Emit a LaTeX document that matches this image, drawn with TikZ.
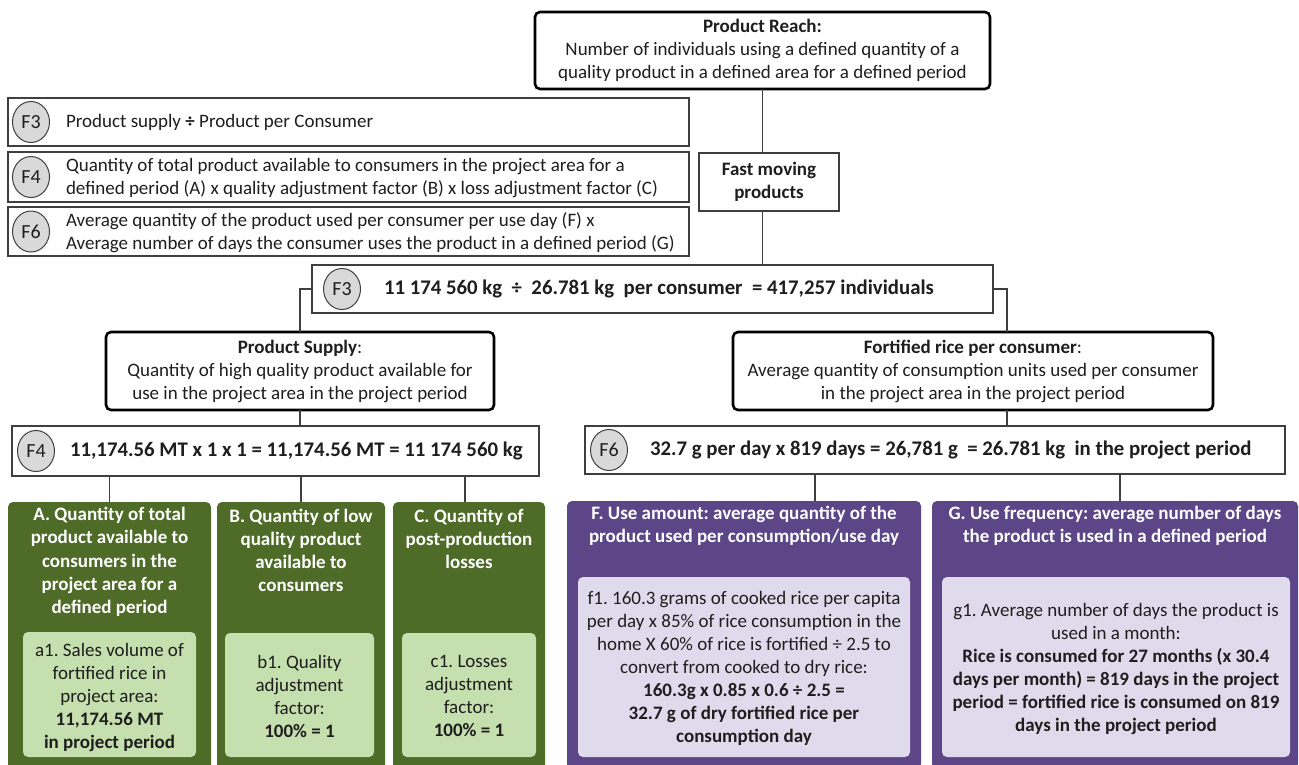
\documentclass[tikz,border=0pt]{standalone}
\usepackage{fontspec}
\setmainfont{Carlito}
\usetikzlibrary{shapes.geometric,calc}
\definecolor{dgreen}{HTML}{4E6B28}
\definecolor{lgreen}{HTML}{C5DFAE}
\definecolor{dpurple}{HTML}{5C4687}
\definecolor{lpurple}{HTML}{DFDBEC}
\definecolor{cgray}{HTML}{D9D9D9}
\definecolor{bgray}{HTML}{3F3F3F}
\definecolor{txt}{HTML}{1E1E1E}
\frenchspacing
\begin{document}
\begin{tikzpicture}[x=1pt,y=-1pt,
  every node/.style={inner sep=0pt, outer sep=0pt, text=txt},
  bodyfont/.style={font=\fontsize{19}{23}\selectfont},
  bigbox/.style={draw=black, line width=2.6pt, rounded corners=5pt, fill=white, align=center, bodyfont},
  rowbox/.style={draw=bgray, line width=1.2pt, fill=white},
  calcbox/.style={draw=bgray, line width=1.2pt, fill=white},
  fastbox/.style={draw=bgray, line width=1.2pt, fill=white, align=center, font=\fontsize{19}{23}\selectfont\bfseries},
  fcirc/.style={ellipse, draw=bgray, fill=cgray, line width=1pt, minimum width=37pt, minimum height=41pt, font=\fontsize{20}{24}\selectfont},
  rowtext/.style={anchor=west, align=left, bodyfont},
  calctext/.style={anchor=west, font=\fontsize{20.8}{25}\selectfont\bfseries},
  gbox/.style={fill=dgreen, rounded corners=5pt},
  pbox/.style={fill=dpurple, rounded corners=5pt},
  gin/.style={fill=lgreen, rounded corners=5pt},
  pin/.style={fill=lpurple, rounded corners=5pt},
  ttl/.style={align=center, text=white, font=\fontsize{19}{23.2}\selectfont\bfseries},
  intext/.style={align=center, bodyfont},
  conn/.style={draw=bgray, line width=1.2pt}
]
\useasboundingbox (0,0) rectangle (1299,764);
\fill[white] (0,0) rectangle (1299,764);

% top box
\node[bigbox, minimum width=455pt, minimum height=77pt] (reach) at (762.5,50.5)
  {\textbf{Product Reach:}\\Number of individuals using a defined quantity of a\\quality product in a defined area for a defined period};

% formula rows
\node[rowbox, minimum width=681pt, minimum height=48pt] (r3) at (348.5,122) {};
\node[fcirc] (r3c) at (31,122) {F3};
\node[rowtext] (r3t) at (66,122) {Product supply \textbf{÷} Product per Consumer};

\node[rowbox, minimum width=681pt, minimum height=50pt] (r4) at (348.5,177) {};
\node[fcirc] (r4c) at (31,177) {F4};
\node[rowtext] (r4t) at (66,178) {Quantity of total product available to consumers in the project area for a\\defined period (A) x quality adjustment factor (B) x loss adjustment factor (C)};

\node[rowbox, minimum width=681pt, minimum height=49pt] (r6) at (348.5,231.5) {};
\node[fcirc] (r6c) at (31,231.5) {F6};
\node[rowtext] (r6t) at (66,233) {Average quantity of the product used per consumer per use day (F) x\\Average number of days the consumer uses the product in a defined period (G)};

% fast moving
\node[fastbox, minimum width=140pt, minimum height=58pt] (fast) at (769,182) {Fast moving\\products};

% main F3
\node[calcbox, minimum width=681pt, minimum height=48pt] (f3m) at (652.5,289) {};
\node[fcirc] (f3c) at (342,289) {F3};
\node[calctext] (f3t) at (384,289) {11 174 560 kg \ ÷ \ 26.781 kg \ per consumer \ = 417,257 individuals};

% supply / fortified
\node[bigbox, minimum width=388pt, minimum height=78pt] (supply) at (300,371)
  {\textbf{Product Supply}:\\Quantity of high quality product available for\\use in the project area in the project period};
\node[bigbox, minimum width=480pt, minimum height=78pt] (fort) at (973,371)
  {\textbf{Fortified rice per consumer}:\\Average quantity of consumption units used per consumer\\in the project area in the project period};

% F4 / F6
\node[calcbox, minimum width=527pt, minimum height=50pt] (f4) at (275.5,451) {};
\node[fcirc] (f4c) at (36,451) {F4};
\node[calctext] (f4t) at (70,451) {11,174.56 MT x 1 x 1 = 11,174.56 MT = 11 174 560 kg};

\node[calcbox, minimum width=700pt, minimum height=48pt] (f6) at (935,450) {};
\node[fcirc] (f6c) at (609,450) {F6};
\node[calctext] (f6t) at (650,450) {32.7 g per day x 819 days = 26,781 g \ = 26.781 kg \ in the project period};

% green boxes
\node[gbox, minimum width=203pt, minimum height=268pt] (A) at (109.5,636) {};
\node[gbox, minimum width=168pt, minimum height=268pt] (B) at (301,636) {};
\node[gbox, minimum width=152pt, minimum height=268pt] (C) at (469,636) {};
\node[ttl] (At) at (109.5,562) {A. Quantity of total\\product available to\\consumers in the\\project area for a\\defined period};
\node[ttl] (Bt) at (301,550.5) {B. Quantity of low\\quality product\\available to\\consumers};
\node[ttl] (Ct) at (469,539) {C. Quantity of\\post-production\\losses};
\node[gin, minimum width=173pt, minimum height=125pt] (a1) at (109.5,694.5) {};
\node[gin, minimum width=149pt, minimum height=124pt] (b1) at (299.5,695) {};
\node[gin, minimum width=134pt, minimum height=124pt] (c1) at (469,695) {};
\node[intext] (a1t) at (109.5,697) {a1. Sales volume of\\fortified rice in\\project area:\\\textbf{11,174.56 MT}\\\textbf{in project period}};
\node[intext] (b1t) at (299.5,696) {b1. Quality\\adjustment\\factor:\\\textbf{100\% = 1}};
\node[intext] (c1t) at (469,696) {c1. Losses\\adjustment\\factor:\\\textbf{100\% = 1}};

% purple boxes
\node[pbox, minimum width=354pt, minimum height=268pt] (F) at (744,635) {};
\node[pbox, minimum width=366pt, minimum height=268pt] (G) at (1115,635) {};
\node[ttl] (Ft) at (744,526) {F. Use amount: average quantity of the\\product used per consumption/use day};
\node[ttl] (Gt) at (1115,526) {G. Use frequency: average number of days\\the product is used in a defined period};
\node[pin, minimum width=332pt, minimum height=180pt] (f1) at (744,667) {};
\node[pin, minimum width=348pt, minimum height=180pt] (g1) at (1116,667) {};
\node[intext] (f1t) at (744,668) {f1. 160.3 grams of cooked rice per capita\\per day x 85\% of rice consumption in the\\home X 60\% of rice is fortified ÷ 2.5 to\\convert from cooked to dry rice:\\\textbf{160.3g x 0.85 x 0.6 ÷ 2.5 =}\\\textbf{32.7 g of dry fortified rice per}\\\textbf{consumption day}};
\node[intext] (g1t) at (1116,669) {g1. Average number of days the product is\\used in a month:\\\textbf{Rice is consumed for 27 months (x 30.4}\\\textbf{days per month) = 819 days in the project}\\\textbf{period = fortified rice is consumed on 819}\\\textbf{days in the project period}};

% connectors
\coordinate (rj) at (1007,290);
\coordinate (fl) at (815,0);
\coordinate (gl) at (1120,0);
\coordinate (cl) at (465,0);
\draw[conn] (reach.south) -- (reach.south |- fast.north);
\draw[conn] (reach.south |- fast.south) -- (reach.south |- f3m.north);
\draw[conn] (f3m.west) -| (supply.north);
\draw[conn] (f3m.east) -| (rj |- fort.north);
\draw[conn] (supply.south) -- (supply.south |- f4.north);
\draw[conn] (rj |- fort.south) -- (rj |- f6.north);
\draw[conn] (f4.south -| A.north) -- (A.north);
\draw[conn] (f4.south -| B.north) -- (B.north);
\draw[conn] (cl |- f4.south) -- (cl |- C.north);
\draw[conn] (fl |- f6.south) -- (fl |- F.north);
\draw[conn] (gl |- f6.south) -- (gl |- G.north);
\end{tikzpicture}
\end{document}
